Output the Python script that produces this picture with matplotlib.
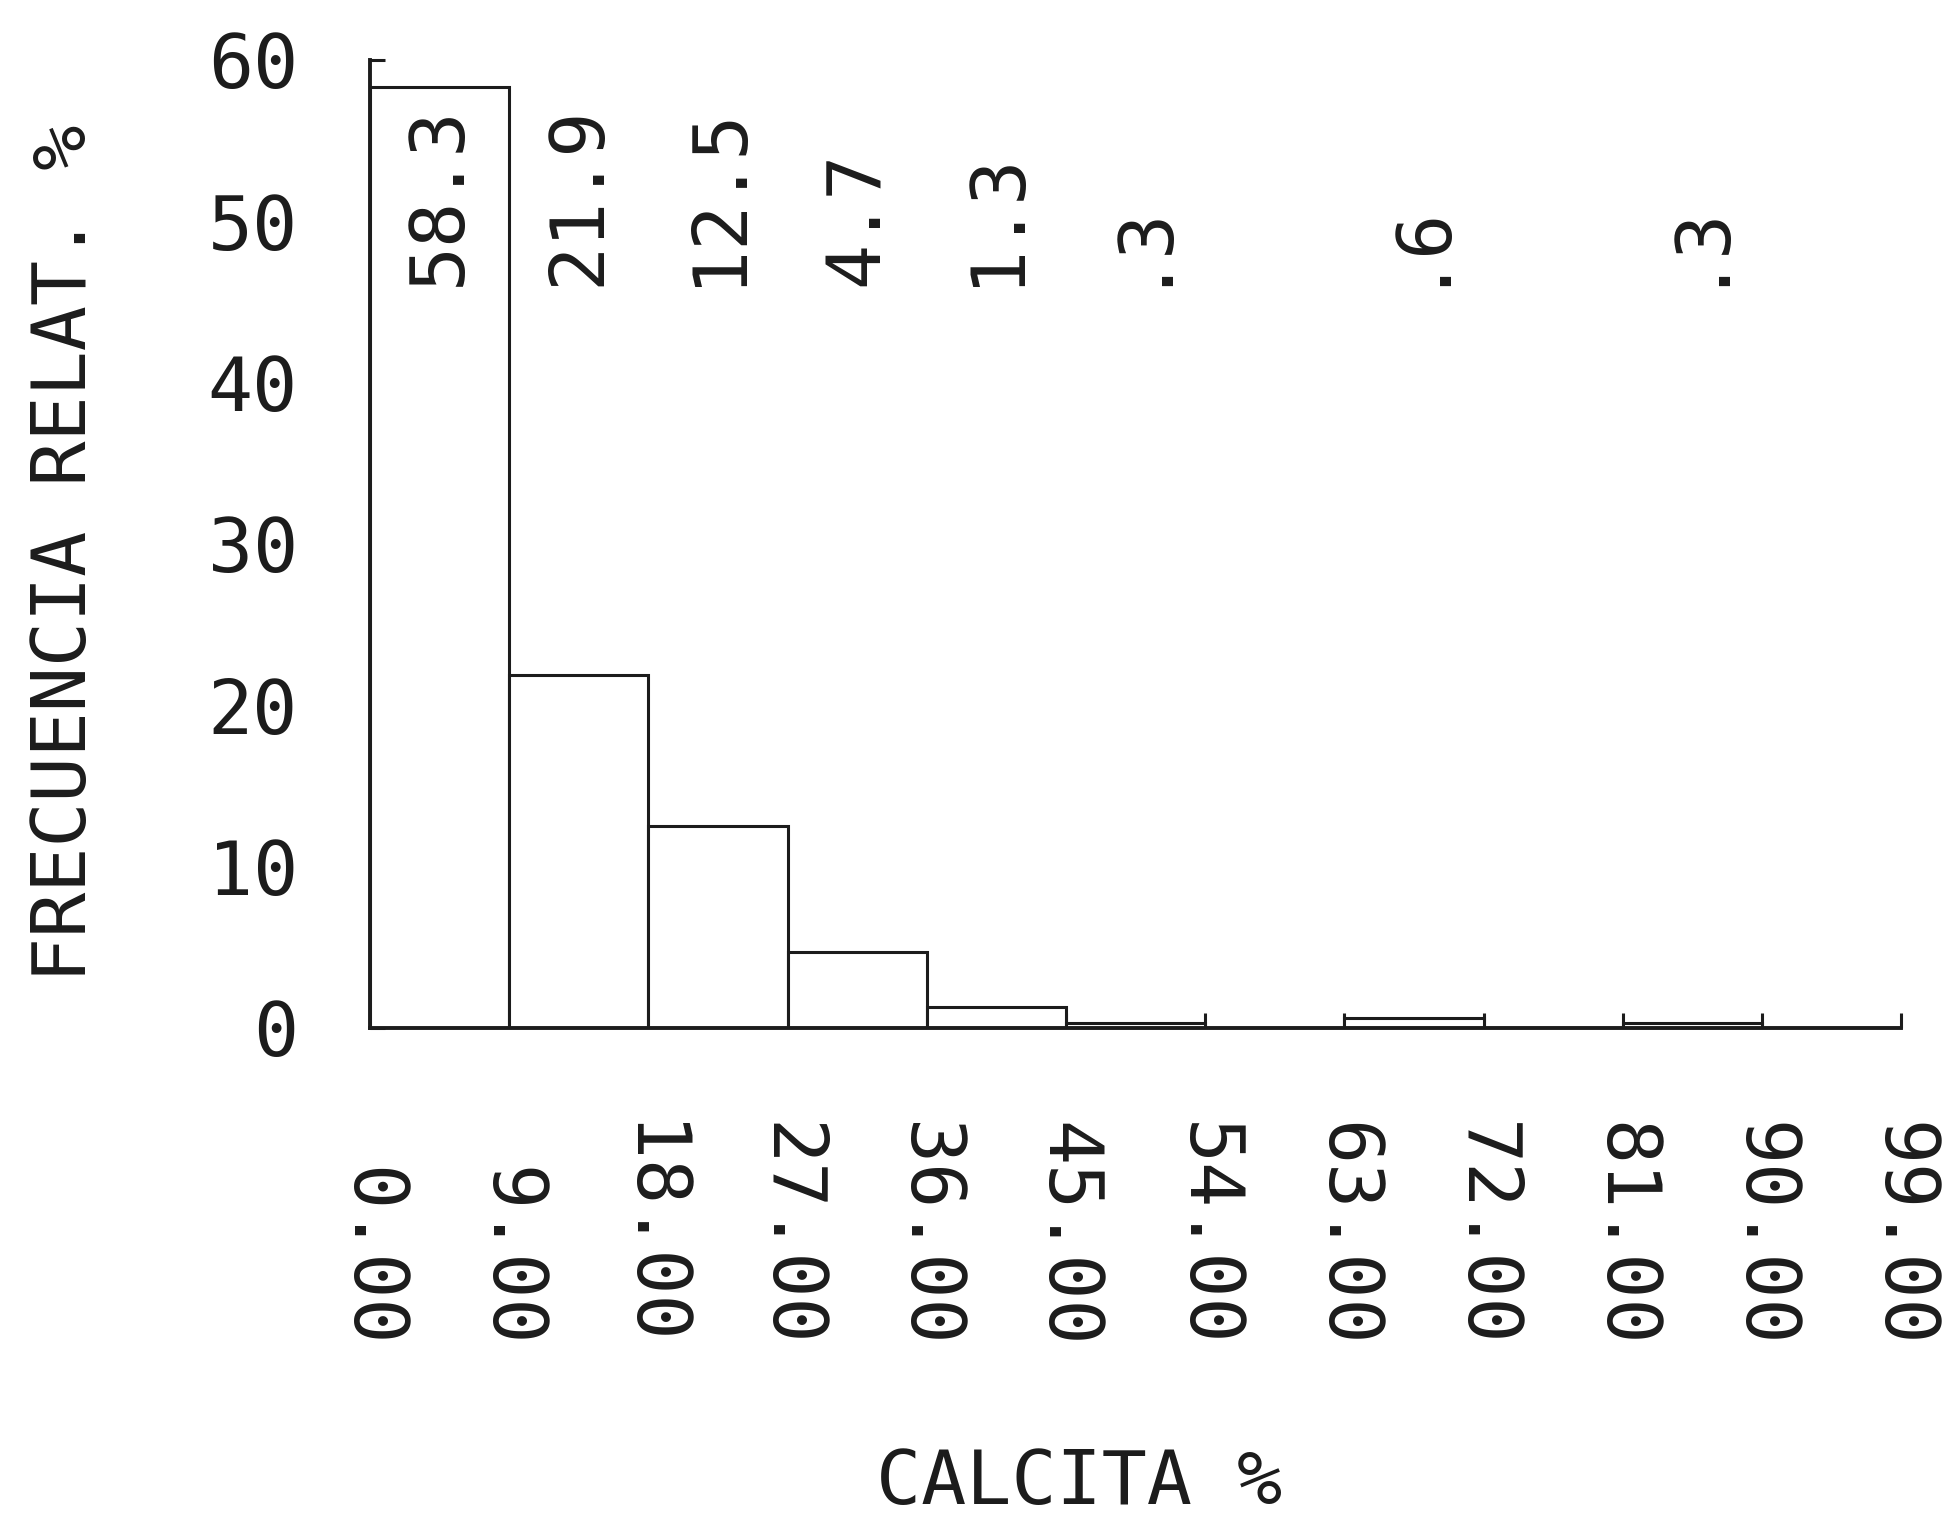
import matplotlib
matplotlib.use("Agg")
import matplotlib.pyplot as plt

# Histogram of calcite content (class width 9 %)
bin_edges = [0, 9, 18, 27, 36, 45, 54, 63, 72, 81, 90, 99]
rel_freq = [58.3, 21.9, 12.5, 4.7, 1.3, 0.3, 0.0, 0.6, 0.0, 0.3, 0.0]
y_ticks = [0, 10, 20, 30, 40, 50, 60]
x_label = "CALCITA %"
y_label = "FRECUENCIA RELAT. %"

INK = "#1c1c1c"
FONT = "DejaVu Sans Mono"
FS = 54

plt.rcParams["font.family"] = [FONT, "DejaVu Sans"]

fig = plt.figure(figsize=(19.48, 15.37), dpi=100)
ax = fig.add_axes([0.19, 0.3312, 0.7859, 0.6298])

widths = [b - a for a, b in zip(bin_edges[:-1], bin_edges[1:])]
ax.bar(bin_edges[:-1], rel_freq, width=widths, align="edge",
       facecolor="white", edgecolor=INK, linewidth=2.2, zorder=2)

ax.set_xlim(bin_edges[0], bin_edges[-1])
ax.set_ylim(0, 60)

for side in ("top", "right"):
    ax.spines[side].set_visible(False)
for side in ("left", "bottom"):
    ax.spines[side].set_color(INK)
    ax.spines[side].set_linewidth(2.8)
    ax.spines[side].set_zorder(3)

# y axis: inward ticks, horizontal labels
ax.set_yticks(y_ticks, [str(v) for v in y_ticks], fontsize=FS, color=INK)
ax.tick_params(axis="y", direction="in", length=11, width=2.2, color=INK, pad=52)

# x axis: inward ticks at each class limit, labels read downward and end-aligned
ax.set_xticks(bin_edges, [f"{v:.2f}" for v in bin_edges], fontsize=FS, color=INK,
              rotation=-90, va="bottom", ha="center")
ax.tick_params(axis="x", direction="in", length=11, width=2.2, color=INK, pad=230)

# class frequencies written upward above the bars
for left, w, v in zip(bin_edges[:-1], widths, rel_freq):
    if v <= 0:
        continue
    txt = f"{v:.1f}"
    if txt.startswith("0"):
        txt = txt[1:]
    ax.text(left + w / 2, 46.0, txt, rotation=90, ha="center", va="bottom",
            fontsize=FS, color=INK)

fig.text(0.0334, 0.640, y_label, rotation=90, ha="center", va="center",
         fontsize=FS, color=INK)
fig.text(0.554, 0.0345, x_label, ha="center", va="center",
         fontsize=FS, color=INK)

fig.savefig("out.png", dpi=100, facecolor="white")
